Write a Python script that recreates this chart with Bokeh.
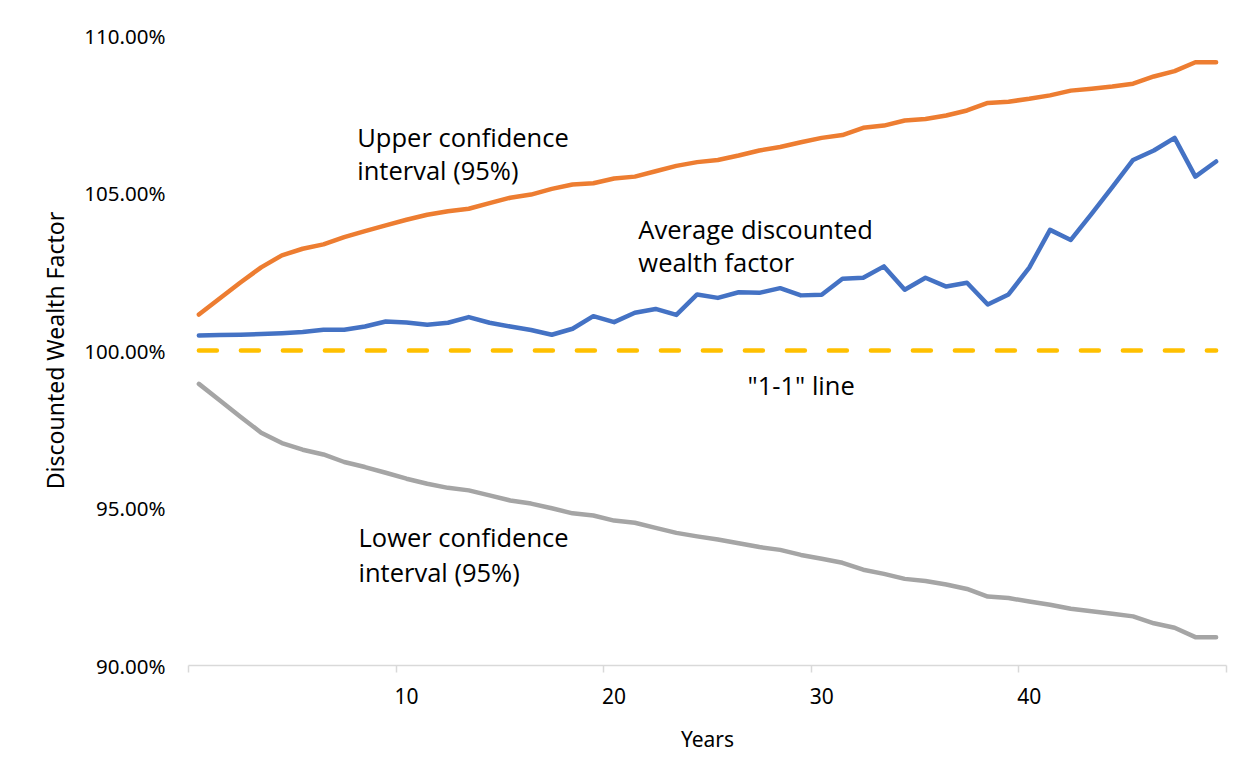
from bokeh.plotting import figure
from bokeh.models import Range1d, FixedTicker, PrintfTickFormatter, Label, ColumnDataSource
from bokeh.embed import file_html
from bokeh.resources import INLINE

years = list(range(0, 50))

upper_ci = [101.14, 101.65, 102.16, 102.64, 103.02, 103.23, 103.37, 103.60, 103.79, 103.97,
            104.15, 104.31, 104.42, 104.50, 104.68, 104.85, 104.95, 105.13, 105.27, 105.31,
            105.46, 105.52, 105.69, 105.86, 105.98, 106.05, 106.19, 106.35, 106.46, 106.61,
            106.75, 106.84, 107.07, 107.14, 107.30, 107.35, 107.46, 107.62, 107.86, 107.90,
            107.99, 108.10, 108.25, 108.31, 108.38, 108.47, 108.70, 108.87, 109.15, 109.15]

average = [100.48, 100.49, 100.50, 100.52, 100.55, 100.59, 100.66, 100.66, 100.76, 100.92,
           100.89, 100.82, 100.88, 101.06, 100.88, 100.76, 100.65, 100.50, 100.69, 101.09,
           100.90, 101.20, 101.32, 101.13, 101.78, 101.67, 101.85, 101.83, 101.98, 101.75,
           101.77, 102.28, 102.31, 102.67, 101.93, 102.31, 102.03, 102.15, 101.46, 101.78,
           102.63, 103.83, 103.51, 104.34, 105.19, 106.05, 106.35, 106.75, 105.52, 106.00]

one_one = [100.0] * 50

lower_ci = [98.94, 98.42, 97.90, 97.39, 97.06, 96.85, 96.70, 96.46, 96.30, 96.12,
            95.93, 95.77, 95.64, 95.56, 95.40, 95.24, 95.14, 94.99, 94.83, 94.76,
            94.60, 94.53, 94.37, 94.21, 94.10, 94.00, 93.88, 93.76, 93.67, 93.51,
            93.39, 93.26, 93.04, 92.91, 92.75, 92.68, 92.57, 92.43, 92.19, 92.14,
            92.03, 91.93, 91.80, 91.72, 91.64, 91.56, 91.34, 91.20, 90.90, 90.90]

y_ticks = [90, 95, 100, 105, 110]
x_label_ticks = [10, 20, 30, 40]
x_boundary_ticks = [-0.5, 9.5, 19.5, 29.5, 39.5, 49.5]

src = ColumnDataSource(dict(x=years, up=upper_ci, avg=average, one=one_one, lo=lower_ci))

p = figure(width=1245, height=773, output_backend="svg", toolbar_location=None,
           x_range=Range1d(-0.5, 49.5), y_range=Range1d(90, 110),
           min_border_left=188, min_border_right=19, min_border_top=35, min_border_bottom=108,
           frame_width=1038, frame_height=630)
p.outline_line_color = None
p.grid.visible = False
p.background_fill_color = "white"
p.border_fill_color = "white"

p.line("x", "up", source=src, line_color="#ED7D31", line_width=4.5, line_cap="round", line_join="round")
p.line("x", "avg", source=src, line_color="#4472C4", line_width=4.5, line_cap="round", line_join="round")
p.line("x", "one", source=src, line_color="#FFC000", line_width=4.5, line_cap="round", line_dash="18 24")
p.line("x", "lo", source=src, line_color="#A5A5A5", line_width=4.5, line_cap="round", line_join="round")

# y axis
ya = p.yaxis[0]
ya.ticker = FixedTicker(ticks=y_ticks)
ya.formatter = PrintfTickFormatter(format="%.2f%%")
ya.axis_line_color = None
ya.major_tick_line_color = None
ya.minor_tick_line_color = None
ya.major_tick_out = 0
ya.major_tick_in = 0
ya.major_label_standoff = 23
ya.major_label_text_font = "Noto Sans"
ya.major_label_text_font_size = "20.5px"
ya.major_label_text_color = "#000000"
ya.axis_label = "Discounted Wealth Factor"
ya.axis_label_text_font = "Noto Sans"
ya.axis_label_text_font_size = "23px"
ya.axis_label_text_font_style = "normal"
ya.axis_label_text_color = "#000000"
ya.axis_label_standoff = 10

# x axis
xa = p.xaxis[0]
xa.ticker = FixedTicker(ticks=x_label_ticks, minor_ticks=x_boundary_ticks)
xa.axis_line_color = "#D9D9D9"
xa.axis_line_width = 1.5
xa.major_tick_line_color = None
xa.major_tick_out = 0
xa.major_tick_in = 0
xa.minor_tick_line_color = "#D9D9D9"
xa.minor_tick_line_width = 1.5
xa.minor_tick_out = 7
xa.minor_tick_in = 0
xa.major_label_standoff = 15
xa.major_label_text_font = "Noto Sans"
xa.major_label_text_font_size = "21px"
xa.major_label_text_color = "#000000"
xa.axis_label = "Years"
xa.axis_label_text_font = "Noto Sans"
xa.axis_label_text_font_size = "21px"
xa.axis_label_text_font_style = "normal"
xa.axis_label_text_color = "#000000"
xa.axis_label_standoff = 18

def add_label(x, y, text):
    p.add_layout(Label(x=x, y=y, text=text, text_font="Open Sans", text_font_size="25.5px",
                       text_color="#000000", text_baseline="alphabetic", text_align="left"))

add_label(7.63, 106.79, "Upper confidence")
add_label(7.63, 105.73, "interval (95%)")
add_label(21.17, 103.85, "Average discounted")
add_label(21.17, 102.80, "wealth factor")
add_label(26.43, 98.90, "\"1-1\" line")
add_label(7.69, 94.07, "Lower confidence")
add_label(7.69, 92.98, "interval (95%)")

open("out.html", "w").write(file_html(p, INLINE))
